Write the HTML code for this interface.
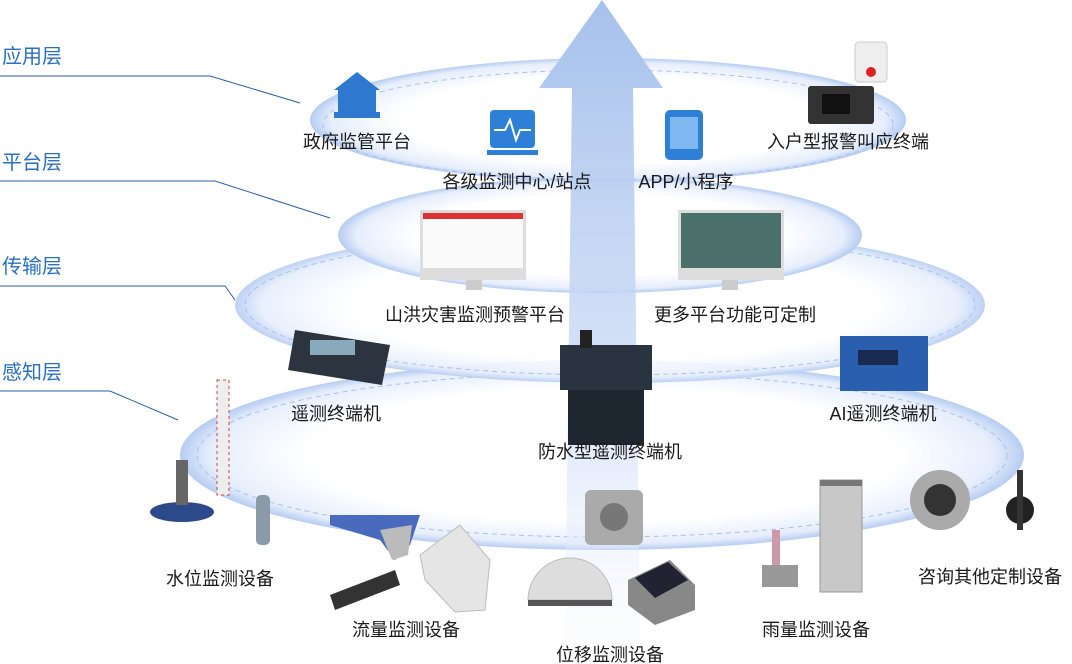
<!DOCTYPE html>
<html><head><meta charset="utf-8"><style>
html,body{margin:0;padding:0;background:#fff;}
#c{position:relative;width:1072px;height:664px;overflow:hidden;font-family:"Liberation Sans","Noto Sans CJK SC",sans-serif;}
.t{position:absolute;font-size:18px;color:#1a1a1a;white-space:nowrap;transform:translateX(-50%);}
.l{position:absolute;left:2px;font-size:20px;color:#2a6fc0;}
</style></head><body><div id="c">
<svg width="1072" height="664" style="position:absolute;left:0;top:0">
<defs>
<radialGradient id="e" cx="50%" cy="50%" r="50%"><stop offset="0.7" stop-color="#fff"/><stop offset="0.93" stop-color="#e6eefc"/><stop offset="1" stop-color="#b6ccf2"/></radialGradient>
<linearGradient id="a" x1="0" y1="0" x2="0" y2="1"><stop offset="0" stop-color="#a6c1ec"/><stop offset="0.6" stop-color="#cddcf6" stop-opacity="0.8"/><stop offset="1" stop-color="#eef3fd" stop-opacity="0.2"/></linearGradient>
</defs>
<g fill="none" stroke="#2a5fa8" stroke-width="1">
<polyline points="0,76 210,76 300,103"/><polyline points="0,181 215,181 330,218"/><polyline points="0,286 225,286 235,300"/><polyline points="0,391 110,391 178,420"/>
</g>
<ellipse cx="602" cy="455" rx="422" ry="95" fill="url(#e)"/>
<ellipse cx="602" cy="455" rx="405" ry="82" fill="none" stroke="#a9c0ea" stroke-dasharray="5 4"/>
<ellipse cx="610" cy="305" rx="375" ry="78" fill="url(#e)" opacity="0.9"/>
<ellipse cx="610" cy="305" rx="365" ry="70" fill="none" stroke="#a9c0ea" stroke-dasharray="5 4"/>
<ellipse cx="600" cy="235" rx="262" ry="58" fill="url(#e)"/>
<ellipse cx="608" cy="120" rx="298" ry="62" fill="url(#e)"/>
<ellipse cx="608" cy="125" rx="285" ry="55" fill="none" stroke="#a9c0ea" stroke-dasharray="5 4"/>
<polygon points="602,0 663,88 633,88 640,640 565,640 572,88 539,88" fill="url(#a)"/>
<path d="M334,90 L357,72 L380,90 L376,90 L376,112 L338,112 L338,90Z" fill="#2e78d0"/><rect x="334" y="112" width="46" height="6" fill="#2e78d0"/>
<rect x="490" y="110" width="45" height="38" rx="4" fill="#2e7fd6"/><rect x="487" y="150" width="51" height="5" fill="#2e7fd6"/><polyline points="494,130 505,130 510,120 516,140 520,130 531,130" stroke="#fff" stroke-width="2" fill="none"/>
<rect x="665" y="110" width="38" height="50" rx="5" fill="#2e7fd6"/><rect x="670" y="117" width="28" height="32" fill="#7fb8f0"/>
<rect x="855" y="42" width="32" height="40" rx="4" fill="#eee" stroke="#ccc"/><circle cx="871" cy="72" r="5" fill="#d22"/>
<rect x="808" y="86" width="66" height="38" rx="3" fill="#333"/><rect x="822" y="94" width="28" height="20" fill="#111"/>
<rect x="420" y="210" width="106" height="70" fill="#ddd"/><rect x="423" y="213" width="100" height="55" fill="#fafafa"/><rect x="423" y="213" width="100" height="6" fill="#d33"/><rect x="466" y="280" width="16" height="10" fill="#ccc"/>
<rect x="678" y="210" width="106" height="70" fill="#ddd"/><rect x="681" y="213" width="100" height="55" fill="#4b6f6a"/><rect x="722" y="280" width="16" height="10" fill="#ccc"/>
<polygon points="295,330 390,345 382,385 288,370" fill="#2c3440"/><rect x="310" y="340" width="45" height="15" fill="#8ab"/>
<rect x="560" y="345" width="92" height="45" fill="#2a3340"/><rect x="568" y="390" width="76" height="55" fill="#1e2630"/><rect x="580" y="330" width="12" height="18" fill="#222"/>
<rect x="840" y="336" width="88" height="55" fill="#2a5fb0"/><rect x="858" y="350" width="40" height="15" fill="#1a2a50"/>
<rect x="217" y="380" width="12" height="115" fill="#eee" stroke="#c44" stroke-dasharray="3 3"/>
<ellipse cx="182" cy="512" rx="32" ry="10" fill="#2c4a8a"/><rect x="176" y="460" width="12" height="45" fill="#666"/>
<rect x="256" y="495" width="14" height="50" rx="5" fill="#8a9aa8"/>
<path d="M330,515 L420,515 L410,545 L395,560 L380,540 L330,525Z" fill="#4a6bbd"/><path d="M380,530 L412,525 L408,555 L392,560Z" fill="#bbb"/>
<polygon points="330,595 395,570 400,585 335,610" fill="#333"/>
<polygon points="420,555 460,525 490,560 485,610 455,612 425,580" fill="#e5e5e5" stroke="#bbb"/>
<rect x="585" y="490" width="58" height="55" rx="6" fill="#aaa"/><circle cx="614" cy="517" r="14" fill="#777"/>
<path d="M528,600 A42,42 0 0 1 612,600Z" fill="#ddd" stroke="#bbb"/><rect x="528" y="600" width="84" height="6" fill="#555"/>
<polygon points="628,580 670,560 695,585 695,610 655,625 628,605" fill="#888"/><polygon points="635,578 668,562 688,580 655,598" fill="#223"/>
<rect x="820" y="480" width="42" height="112" fill="#c8c8c8" stroke="#999"/><rect x="820" y="480" width="42" height="6" fill="#777"/>
<rect x="762" y="565" width="36" height="22" fill="#999"/><rect x="772" y="530" width="8" height="35" fill="#c9a"/>
<circle cx="940" cy="500" r="30" fill="#aaa"/><circle cx="940" cy="500" r="16" fill="#333"/>
<circle cx="1020" cy="510" r="14" fill="#222"/><rect x="1017" y="470" width="6" height="60" fill="#333"/>
</svg>
<div class="l" style="top:40px">应用层</div><div class="l" style="top:146px">平台层</div><div class="l" style="top:250px">传输层</div><div class="l" style="top:356px">感知层</div>
<div class="t" style="left:357px;top:128px">政府监管平台</div>
<div class="t" style="left:517px;top:168px">各级监测中心/站点</div>
<div class="t" style="left:686px;top:168px">APP/小程序</div>
<div class="t" style="left:848px;top:128px">入户型报警叫应终端</div>
<div class="t" style="left:475px;top:301px">山洪灾害监测预警平台</div>
<div class="t" style="left:735px;top:301px">更多平台功能可定制</div>
<div class="t" style="left:336px;top:400px">遥测终端机</div>
<div class="t" style="left:610px;top:438px">防水型遥测终端机</div>
<div class="t" style="left:883px;top:400px">AI遥测终端机</div>
<div class="t" style="left:220px;top:565px">水位监测设备</div>
<div class="t" style="left:406px;top:616px">流量监测设备</div>
<div class="t" style="left:610px;top:641px">位移监测设备</div>
<div class="t" style="left:816px;top:616px">雨量监测设备</div>
<div class="t" style="left:990px;top:563px">咨询其他定制设备</div>
</div></body></html>
